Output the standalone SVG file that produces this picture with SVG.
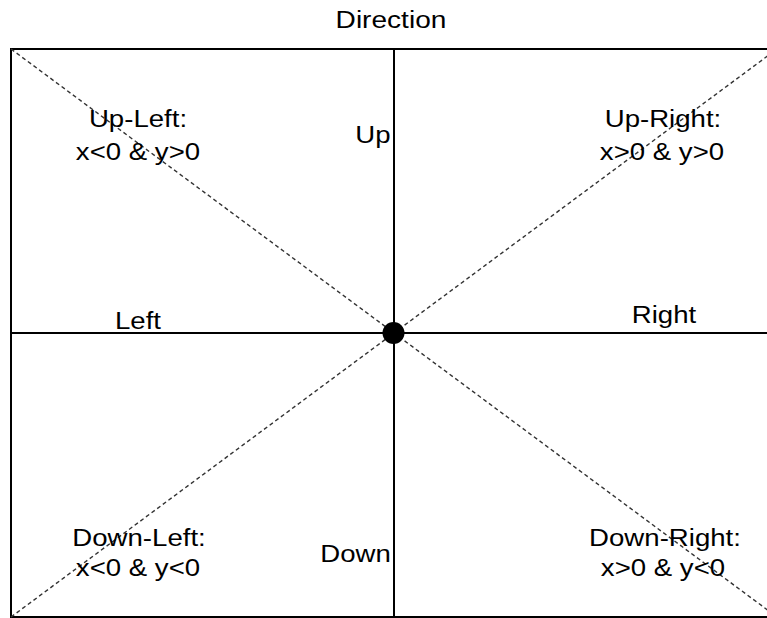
<svg xmlns="http://www.w3.org/2000/svg" width="767" height="618" viewBox="0 0 767 618">
  <style>
    .lbl { font-family: "Liberation Sans", Arial, sans-serif; font-size: 24px; fill: #000; text-anchor: middle; }
    .solid { stroke: #000; stroke-width: 2; fill: none; }
    .dash { stroke: #333; stroke-width: 1.4; stroke-dasharray: 4 3; fill: none; }
  </style>
  <rect width="767" height="618" fill="#fff"/>
  <g id="frame">
    <rect class="solid" x="11" y="49" width="780" height="568"/>
  </g>
  <g id="connectors">
    <line class="dash" x1="11" y1="49" x2="777" y2="617"/>
    <line class="dash" x1="11" y1="617" x2="777" y2="49"/>
    <line class="solid" x1="394" y1="49" x2="394" y2="617"/>
    <line class="solid" x1="11" y1="333" x2="780" y2="333"/>
  </g>
  <g id="origin">
    <circle cx="393.5" cy="333" r="11" fill="#000"/>
  </g>
  <g id="title">
    <text class="lbl" transform="translate(391,28) scale(1.17,1)">Direction</text>
  </g>
  <g id="up-left">
    <text class="lbl" transform="translate(138,127) scale(1.15,1)">Up-Left:</text>
    <text class="lbl" transform="translate(138,160) scale(1.15,1)">x&lt;0 &amp; y&gt;0</text>
  </g>
  <g id="up-right">
    <text class="lbl" transform="translate(663,127) scale(1.15,1)">Up-Right:</text>
    <text class="lbl" transform="translate(662,160) scale(1.15,1)">x&gt;0 &amp; y&gt;0</text>
  </g>
  <g id="up">
    <text class="lbl" transform="translate(373,143) scale(1.15,1)">Up</text>
  </g>
  <g id="left">
    <text class="lbl" transform="translate(138,329) scale(1.15,1)">Left</text>
  </g>
  <g id="right">
    <text class="lbl" transform="translate(664,323) scale(1.15,1)">Right</text>
  </g>
  <g id="down">
    <text class="lbl" transform="translate(355.5,562) scale(1.15,1)">Down</text>
  </g>
  <g id="down-left">
    <text class="lbl" transform="translate(139,546) scale(1.15,1)">Down-Left:</text>
    <text class="lbl" transform="translate(138,576) scale(1.15,1)">x&lt;0 &amp; y&lt;0</text>
  </g>
  <g id="down-right">
    <text class="lbl" transform="translate(665,546) scale(1.15,1)">Down-Right:</text>
    <text class="lbl" transform="translate(663,576) scale(1.15,1)">x&gt;0 &amp; y&lt;0</text>
  </g>
</svg>
